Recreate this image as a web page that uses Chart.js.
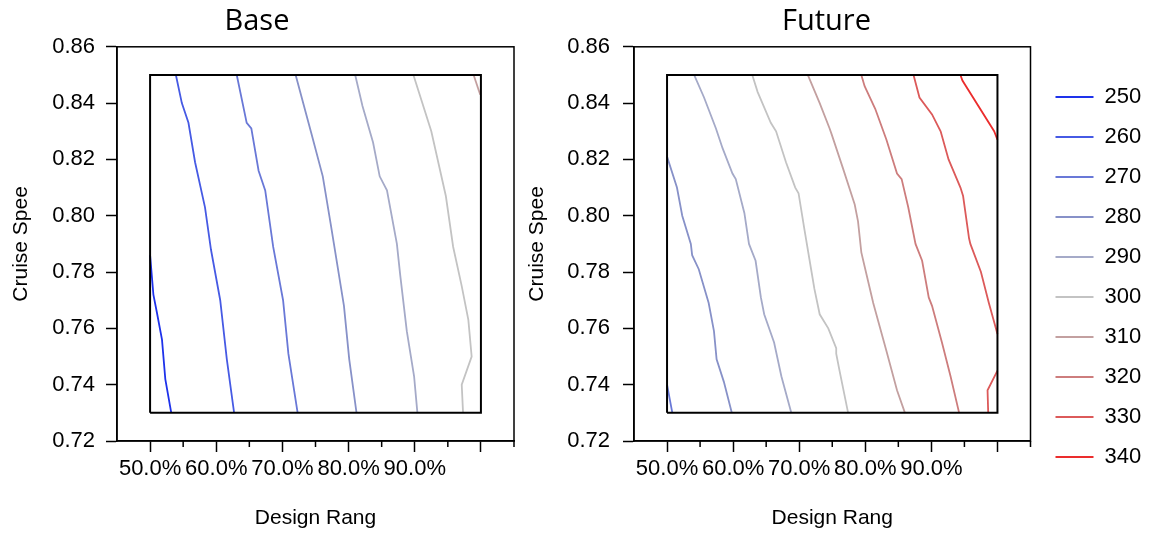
<!DOCTYPE html>
<html>
<head>
<meta charset="utf-8">
<script src="https://cdn.jsdelivr.net/npm/chart.js@4.4.1/dist/chart.umd.min.js"></script>
<style>
  body { margin: 0; background: #fff; }
  #wrap { position: relative; width: 1152px; height: 533px; }
  #baseBox { position: absolute; left: 0; top: 0; width: 618px; height: 533px; }
  #futureBox { position: absolute; left: 510px; top: 0; width: 642px; height: 533px; }
</style>
</head>
<body>
<div id="wrap">
  <div id="baseBox"><canvas id="baseChart" width="618" height="533"></canvas></div>
  <div id="futureBox"><canvas id="futureChart" width="642" height="533"></canvas></div>
</div>
<script>
// contour levels and their colours (blue -> grey -> red)
const levels = [250, 260, 270, 280, 290, 300, 310, 320, 330, 340];
const levelColors = [
    "rgb(30,50,235)", "rgb(70,90,228)", "rgb(105,120,215)", "rgb(135,145,200)", "rgb(165,170,200)",
    "rgb(195,195,195)", "rgb(195,160,160)", "rgb(205,125,125)", "rgb(220,90,90)", "rgb(235,45,45)"
];

const xTicks = [50, 60, 70, 80, 90, 100];
const xMinorTicks = [55, 65, 75, 85, 95, 105];
const yTicks = [0.72, 0.74, 0.76, 0.78, 0.80, 0.82, 0.84, 0.86];

// design range (%) / cruise speed region
const regionBox = [[50, 0.73], [50, 0.85], [100, 0.85], [100, 0.73], [50, 0.73]];

// Base contours: [design range %, cruise speed]
const base250 = [[50.0, 0.786], [50.5, 0.772], [51.0, 0.766], [51.8, 0.756], [52.3, 0.742], [53.2, 0.73]];
const base260 = [[53.9, 0.85], [54.8, 0.840], [55.8, 0.833], [56.8, 0.819], [58.3, 0.803], [59.2, 0.788], [60.6, 0.770], [61.6, 0.749], [62.7, 0.73]];
const base270 = [[63.1, 0.85], [64.6, 0.833], [65.3, 0.831], [66.4, 0.816], [67.4, 0.809], [68.6, 0.789], [70.1, 0.770], [70.9, 0.751], [72.3, 0.73]];
const base280 = [[72.0, 0.85], [74.4, 0.829], [76.1, 0.814], [77.3, 0.797], [78.2, 0.784], [79.3, 0.768], [80.1, 0.749], [81.2, 0.73]];
const base290 = [[81.0, 0.85], [82.1, 0.839], [83.7, 0.826], [84.7, 0.814], [85.8, 0.809], [87.3, 0.790], [87.8, 0.779], [88.8, 0.759], [89.9, 0.743], [90.4, 0.73]];
const base300 = [[89.8, 0.85], [92.5, 0.830], [94.7, 0.807], [95.8, 0.789], [97.1, 0.775], [98.1, 0.763], [98.6, 0.750], [97.1, 0.740], [97.3, 0.73]];
const base310 = [[98.9, 0.85], [99.9, 0.843]];

// Future contours
const fut270 = [[50.0, 0.740], [50.8, 0.73]];
const fut280 = [[50.0, 0.821], [51.5, 0.810], [52.3, 0.800], [53.6, 0.790], [53.8, 0.786], [54.8, 0.781], [56.3, 0.769], [57.1, 0.759], [57.5, 0.749], [58.6, 0.741], [59.8, 0.73]];
const fut290 = [[54.1, 0.85], [55.6, 0.842], [57.4, 0.831], [58.4, 0.824], [59.9, 0.815], [60.4, 0.813], [61.7, 0.801], [62.4, 0.790], [63.4, 0.784], [64.2, 0.771], [64.7, 0.765], [66.2, 0.755], [67.3, 0.743], [68.8, 0.73]];
const fut300 = [[62.9, 0.85], [63.7, 0.844], [65.7, 0.833], [66.5, 0.830], [68.0, 0.819], [69.4, 0.810], [69.9, 0.808], [70.8, 0.795], [71.8, 0.781], [72.3, 0.774], [73.1, 0.765], [74.4, 0.760], [75.6, 0.753], [75.6, 0.751], [76.1, 0.745], [77.4, 0.73]];
const fut310 = [[71.3, 0.85], [73.1, 0.840], [74.6, 0.831], [74.9, 0.829], [76.6, 0.817], [78.4, 0.804], [78.9, 0.798], [79.4, 0.787], [79.9, 0.782], [81.2, 0.769], [83.2, 0.752], [84.8, 0.738], [86.0, 0.73]];
const fut320 = [[79.4, 0.85], [79.9, 0.846], [81.5, 0.838], [83.2, 0.827], [84.8, 0.815], [85.5, 0.813], [86.5, 0.803], [87.6, 0.790], [88.6, 0.784], [89.6, 0.771], [90.1, 0.768], [91.6, 0.755], [92.9, 0.743], [94.2, 0.73]];
const fut330a = [[87.3, 0.85], [88.2, 0.842], [90.1, 0.836], [91.4, 0.830], [92.6, 0.820], [94.4, 0.810], [94.8, 0.807], [95.7, 0.792], [95.9, 0.790], [97.5, 0.780], [98.7, 0.769], [100, 0.758]];
const fut330b = [[100, 0.745], [98.5, 0.738], [98.6, 0.73]];
const fut340 = [[94.4, 0.85], [94.7, 0.848], [99.5, 0.830], [100, 0.827]];

const baseLines = [[250, base250], [260, base260], [270, base270], [280, base280], [290, base290], [300, base300], [310, base310]];
const futureLines = [[270, fut270], [280, fut280], [290, fut290], [300, fut300], [310, fut310], [320, fut320], [330, fut330a], [330, fut330b], [340, fut340]];

Chart.defaults.font.family = "'Liberation Sans', Arial, sans-serif";
Chart.defaults.color = "#000";

const tickFont = { size: 22 };

function makeDatasets(lines) {
    const sets = [{
        label: "region",
        data: regionBox.map(p => ({ x: p[0], y: p[1] })),
        borderColor: "#000",
        borderWidth: 2,
        showLine: true,
        pointRadius: 0,
        yAxisID: "y"
    }];
    lines.forEach(([lv, pts]) => {
        sets.push({
            label: String(lv),
            data: pts.map(p => ({ x: p[0], y: p[1] })),
            borderColor: levelColors[levels.indexOf(lv)],
            borderWidth: 1.8,
            showLine: true,
            pointRadius: 0,
            fill: false,
            yAxisID: "y"
        });
    });
    return sets;
}

// outer frame + short minor ticks on the x axis
const framePlugin = {
    id: "frame",
    afterDraw(chart) {
        const { ctx, chartArea: a } = chart;
        const x = chart.scales.x;
        ctx.save();
        ctx.strokeStyle = "#000";
        ctx.lineWidth = 1.5;
        ctx.strokeRect(a.left, a.top, a.right - a.left, a.bottom - a.top);
        ctx.beginPath();
        xMinorTicks.forEach(v => {
            const px = x.getPixelForValue(v);
            ctx.moveTo(px, a.bottom);
            ctx.lineTo(px, a.bottom + 6);
        });
        ctx.stroke();
        ctx.restore();
    }
};

function makeScales(yWidth, yTickPad, yTitlePad) {
    return {
        x: {
            type: "linear",
            min: 45,
            max: 105,
            afterBuildTicks: s => { s.ticks = xTicks.map(v => ({ value: v })); },
            ticks: {
                callback: v => (v < 100 ? v.toFixed(1) + "%" : ""),
                font: tickFont,
                padding: 4,
                maxRotation: 0,
                autoSkip: false
            },
            grid: { drawOnChartArea: false, tickLength: 11, tickColor: "#000", tickWidth: 1.5 },
            border: { color: "#000", width: 1.5 },
            title: { display: true, text: "Design Rang", font: { size: 21 }, padding: { top: 0, bottom: 2 } },
            afterFit: s => { s.height = 92; }
        },
        y: {
            type: "linear",
            min: 0.72,
            max: 0.86,
            afterBuildTicks: s => { s.ticks = yTicks.map(v => ({ value: v })); },
            ticks: { callback: v => v.toFixed(2), font: tickFont, padding: yTickPad },
            grid: { drawOnChartArea: false, tickLength: 11, tickColor: "#000", tickWidth: 1.5 },
            border: { color: "#000", width: 1.5 },
            title: { display: true, text: "Cruise Spee", font: { size: 21 }, padding: { top: yTitlePad, bottom: 0 } },
            afterFit: s => { s.width = yWidth; }
        }
    };
}

function titleOpts(text) {
    return {
        display: true,
        text: text,
        color: "#000",
        font: { family: "'Open Sans', sans-serif", size: 29, weight: "normal" },
        padding: { top: 4, bottom: 8 }
    };
}

// Base chart
new Chart(document.getElementById("baseChart"), {
    type: "scatter",
    data: { datasets: makeDatasets(baseLines) },
    options: {
        responsive: false,
        animation: false,
        events: [],
        devicePixelRatio: 1,
        layout: { padding: { right: 104 } },
        plugins: {
            title: titleOpts("Base"),
            legend: { display: false },
            tooltip: { enabled: false }
        },
        scales: makeScales(117, 11, 8.4)
    },
    plugins: [framePlugin]
});

// Future chart, with the shared level legend on the right
const futureScales = makeScales(124, 13, 14.4);
futureScales.yPad = {
    type: "linear",
    position: "right",
    display: true,
    grid: { display: false },
    border: { display: false },
    ticks: { display: false },
    afterFit: s => { s.width = 7; }
};

new Chart(document.getElementById("futureChart"), {
    type: "scatter",
    data: { datasets: makeDatasets(futureLines) },
    options: {
        responsive: false,
        animation: false,
        events: [],
        devicePixelRatio: 1,
        layout: { padding: { right: 9 } },
        plugins: {
            title: titleOpts("Future"),
            tooltip: { enabled: false },
            legend: {
                display: true,
                position: "right",
                onClick: () => {},
                title: { display: true, text: "", font: { size: 12 }, padding: { top: 3.3, bottom: 3.3 } },
                labels: {
                    boxWidth: 38,
                    boxHeight: 2,
                    padding: 18,
                    color: "#000",
                    font: tickFont,
                    generateLabels: () => levels.map((lv, i) => ({
                        text: String(lv),
                        fillStyle: levelColors[i],
                        strokeStyle: levelColors[i],
                        lineWidth: 0,
                        hidden: false,
                        index: i
                    }))
                }
            }
        },
        scales: futureScales
    },
    plugins: [framePlugin]
});
</script>
</body>
</html>
